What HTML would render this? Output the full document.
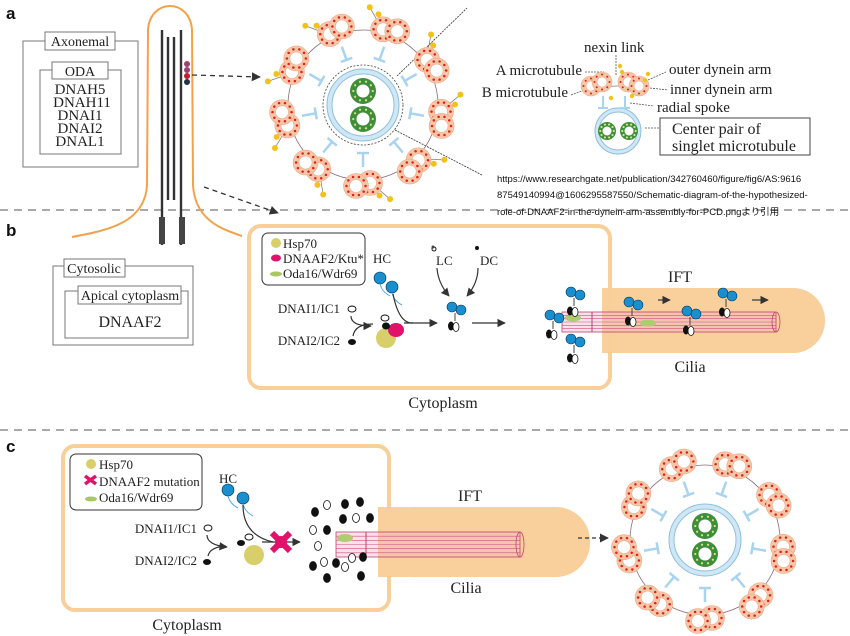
<!DOCTYPE html>
<html><head><meta charset="utf-8"><style>
html,body{margin:0;padding:0;background:#fff;width:850px;height:636px;overflow:hidden}
svg{display:block}
.s{font-family:"Liberation Serif",serif;fill:#222}
.ss{font-family:"Liberation Sans","Noto Sans CJK JP",sans-serif;fill:#111}
</style></head><body>
<svg id="g" width="850" height="636" viewBox="0 0 850 636" xmlns="http://www.w3.org/2000/svg">
<defs>
<marker id="ar" viewBox="0 0 10 10" refX="9" refY="5" markerWidth="7" markerHeight="7" orient="auto"><path d="M0,0L10,5L0,10z" fill="#333"/></marker>
</defs>
<line x1="0" y1="210" x2="850" y2="210" stroke="#aaa" stroke-width="2" stroke-dasharray="8,6"/>
<line x1="0" y1="430" x2="850" y2="430" stroke="#aaa" stroke-width="2" stroke-dasharray="8,6"/>
<text x="6" y="19" class="ss" font-size="17" font-weight="bold">a</text>
<text x="6" y="236" class="ss" font-size="17" font-weight="bold">b</text>
<text x="6" y="452" class="ss" font-size="17" font-weight="bold">c</text>

<rect x="23" y="41" width="115" height="126" fill="none" stroke="#777"/>
<rect x="45" y="32" width="70" height="18" fill="#fff" stroke="#777"/>
<text x="80" y="46" class="s" font-size="14" text-anchor="middle">Axonemal</text>
<rect x="40" y="70" width="81" height="84" fill="none" stroke="#777"/>
<rect x="52" y="62" width="56" height="17" fill="#fff" stroke="#777"/>
<text x="80" y="76" class="s" font-size="14" text-anchor="middle">ODA</text>
<g class="s" font-size="15" text-anchor="middle">
<text x="80" y="94">DNAH5</text><text x="82" y="107">DNAH11</text><text x="80" y="120">DNAI1</text><text x="80" y="133">DNAI2</text><text x="80" y="146">DNAL1</text></g>

<path d="M72,237 C110,230 145,222 147,185 L148,30 C150,-2 190,-2 192,30 L193,185 C195,222 225,230 242,236" fill="none" stroke="#f4a14a" stroke-width="2"/>
<g stroke="#333" stroke-width="2.4">
<line x1="162" y1="30" x2="162" y2="245"/><line x1="168" y1="37" x2="168" y2="200"/><line x1="174" y1="37" x2="174" y2="200"/><line x1="181" y1="30" x2="181" y2="245"/></g>
<rect x="159" y="217" width="6" height="27" fill="#444"/><rect x="179" y="217" width="6" height="27" fill="#444"/>
<circle cx="187" cy="64" r="3" fill="#a04070"/><circle cx="187" cy="70" r="3" fill="#a04070"/><circle cx="187" cy="76" r="3" fill="#c02030"/><circle cx="187" cy="82" r="3" fill="#234"/>
<line x1="192" y1="75" x2="260" y2="77" stroke="#333" stroke-dasharray="5,4" stroke-width="1.3" marker-end="url(#ar)"/>
<line x1="204" y1="187" x2="278" y2="213" stroke="#333" stroke-dasharray="5,4" stroke-width="1.3" marker-end="url(#ar)"/>
<line x1="397" y1="76" x2="467" y2="8" stroke="#333" stroke-width="0.8" stroke-dasharray="2,1"/>
<line x1="395" y1="130" x2="482" y2="175" stroke="#333" stroke-width="0.8" stroke-dasharray="2,1"/>

<g id="ax1"></g>

<g class="s" font-size="15">
<text x="584" y="52">nexin link</text>
<text x="582" y="75" text-anchor="end">A microtubule</text>
<text x="568" y="97" text-anchor="end">B microtubule</text>
<text x="669" y="74">outer dynein arm</text>
<text x="670" y="94">inner dynein arm</text>
<text x="657" y="112">radial spoke</text>
</g>
<g stroke="#555" stroke-width="0.8" stroke-dasharray="2,1" fill="none">
<line x1="585" y1="72" x2="604" y2="72"/><line x1="571" y1="95" x2="590" y2="88"/><line x1="616" y1="55" x2="616" y2="76"/>
<line x1="648" y1="80" x2="666" y2="72"/><line x1="650" y1="88" x2="668" y2="90"/><line x1="630" y1="103" x2="654" y2="106"/>
<line x1="645" y1="128" x2="659" y2="128"/></g>
<g id="leg"></g>
<rect x="660" y="118" width="150" height="37" fill="none" stroke="#444"/>
<text x="672" y="134" class="s" font-size="16">Center pair of</text>
<text x="672" y="151" class="s" font-size="16">singlet microtubule</text>
<g class="ss" font-size="9.5">
<text x="497" y="182">https://www.researchgate.net/publication/342760460/figure/fig6/AS:9616</text>
<text x="497" y="198">87549140994@1606295587550/Schematic-diagram-of-the-hypothesized-</text>
<text x="497" y="215">role-of-DNAAF2-in-the-dynein-arm-assembly-for-PCD.pngより引用</text></g>

<rect x="53" y="266" width="140" height="79" fill="none" stroke="#777"/>
<rect x="64" y="259" width="61" height="18" fill="#fff" stroke="#777"/>
<text x="94" y="273" class="s" font-size="14" text-anchor="middle">Cytosolic</text>
<rect x="65" y="291" width="123" height="47" fill="none" stroke="#777"/>
<rect x="78" y="286" width="103" height="18" fill="#fff" stroke="#777"/>
<text x="130" y="300" class="s" font-size="14" text-anchor="middle">Apical cytoplasm</text>
<text x="130" y="327" class="s" font-size="16" text-anchor="middle">DNAAF2</text>

<rect x="602" y="288" width="223" height="65" rx="32" fill="#f9cf9c"/>
<rect x="602" y="288" width="30" height="65" fill="#f9cf9c"/>
<rect x="249" y="226" width="361" height="162" rx="12" fill="none" stroke="#f8cf98" stroke-width="4"/>
<rect x="262" y="233" width="103" height="52" rx="6" fill="#fff" stroke="#333"/>
<circle cx="276" cy="243" r="5" fill="#d8cf6a"/><ellipse cx="276" cy="258" rx="5" ry="3.5" fill="#e0126a"/><ellipse cx="276" cy="274" rx="6" ry="2.5" fill="#a8c860"/>
<g class="s" font-size="13"><text x="283" y="248">Hsp70</text><text x="283" y="263">DNAAF2/Ktu*</text><text x="283" y="278">Oda16/Wdr69</text>
<text x="373" y="263">HC</text><text x="436" y="265">LC</text><text x="480" y="265">DC</text>
<text x="340" y="313" text-anchor="end">DNAI1/IC1</text><text x="340" y="345" text-anchor="end">DNAI2/IC2</text></g>
<text x="680" y="282" class="s" font-size="16" text-anchor="middle">IFT</text>
<text x="690" y="372" class="s" font-size="16" text-anchor="middle">Cilia</text>
<text x="443" y="408" class="s" font-size="16" text-anchor="middle">Cytoplasm</text>
<g id="tubeb"></g>
<g id="bstuff"></g>

<rect x="378" y="507" width="212" height="70" rx="34" fill="#f9cf9c"/>
<rect x="378" y="507" width="30" height="70" fill="#f9cf9c"/>
<rect x="63" y="446" width="326" height="164" rx="12" fill="none" stroke="#f8cf98" stroke-width="4"/>
<rect x="378" y="509" width="14" height="66" fill="#f9cf9c"/>
<rect x="70" y="454" width="132" height="56" rx="6" fill="#fff" stroke="#333"/>
<circle cx="91" cy="464" r="5" fill="#d8cf6a"/><path d="M85,476 l11,8 M96,476 l-11,8" stroke="#e0126a" stroke-width="3.5"/><ellipse cx="91" cy="499" rx="6" ry="2.5" fill="#a8c860"/>
<g class="s" font-size="13"><text x="99" y="469">Hsp70</text><text x="99" y="486">DNAAF2 mutation</text><text x="99" y="502">Oda16/Wdr69</text>
<text x="219" y="483">HC</text>
<text x="197" y="533" text-anchor="end">DNAI1/IC1</text><text x="197" y="565" text-anchor="end">DNAI2/IC2</text></g>
<text x="470" y="501" class="s" font-size="16" text-anchor="middle">IFT</text>
<text x="466" y="593" class="s" font-size="16" text-anchor="middle">Cilia</text>
<text x="187" y="630" class="s" font-size="16" text-anchor="middle">Cytoplasm</text>
<line x1="578" y1="538" x2="608" y2="538" stroke="#333" stroke-dasharray="4,3" stroke-width="1.3" marker-end="url(#ar)"/>
<g id="tubec"></g>
<g id="cstuff"></g>
<g id="ax2"></g>
</svg>
<script>
var NS="http://www.w3.org/2000/svg";
function add(p,t,a){var e=document.createElementNS(NS,t);for(var k in a)e.setAttribute(k,a[k]);p.appendChild(e);return e;}
function tube(p,x,y,r,hole,dots){
 add(p,"circle",{cx:x,cy:y,r:r,fill:"#f7c6a6",stroke:"#e8a888","stroke-width":0.6});
 add(p,"circle",{cx:x,cy:y,r:hole,fill:"#fff",stroke:"#e8a888","stroke-width":0.6});
 var n=dots||9,rr=(r+hole)/2;for(var i=0;i<n;i++){var a=i*2*Math.PI/n;add(p,"circle",{cx:x+rr*Math.cos(a),cy:y+rr*Math.sin(a),r:Math.max(0.8,r*0.1),fill:"#e0201a"});}
}
function green(p,x,y,r,h){add(p,"circle",{cx:x,cy:y,r:r,fill:"#3f8f3a"});add(p,"circle",{cx:x,cy:y,r:h,fill:"#fff"});
 var rr=(r+h)/2;for(var i=0;i<10;i++){var a=i*Math.PI/5;add(p,"circle",{cx:x+rr*Math.cos(a),cy:y+rr*Math.sin(a),r:1.1,fill:"#d8e08a"});}}
function axo(id,cx,cy,R,sr,arms){
 var g=document.getElementById(id);
 add(g,"circle",{cx:cx,cy:cy,r:R-3,fill:"none",stroke:"#8a6a7a","stroke-width":0.8});
 for(var i=0;i<9;i++){var a=(-110+40*i)*Math.PI/180,c=Math.cos(a),s=Math.sin(a);
  var r1=R-16,r2=R-30;add(g,"line",{x1:cx+r1*c,y1:cy+r1*s,x2:cx+r2*c,y2:cy+r2*s,stroke:"#a8d4f0","stroke-width":2.5});
  add(g,"line",{x1:cx+r2*c-6*s,y1:cy+r2*s+6*c,x2:cx+r2*c+6*s,y2:cy+r2*s-6*c,stroke:"#a8d4f0","stroke-width":2.5});
  if(arms){for(var k=0;k<2;k++){var b=a+(k?-0.28:-0.18),rr=R+(k?20:14);var ax=cx+rr*Math.cos(b),ay=cy+rr*Math.sin(b);
    add(g,"line",{x1:cx+R*Math.cos(a-0.1),y1:cy+R*Math.sin(a-0.1),x2:ax,y2:ay,stroke:"#777","stroke-width":0.7});
    add(g,"circle",{cx:ax,cy:ay,r:3,fill:"#f2c21b"});}}
  var tx=-s,ty=c;
  tube(g,cx+R*c-7*tx,cy+R*s-7*ty,12.5,6.5,10);
  tube(g,cx+(R+3)*c+7*tx,cy+(R+3)*s+7*ty,12.5,6.5,10);
 }
 if(arms)add(g,"circle",{cx:cx,cy:cy,r:sr+4,fill:"none",stroke:"#444","stroke-width":0.8,"stroke-dasharray":"2,1.5"});
 add(g,"circle",{cx:cx,cy:cy,r:sr,fill:"#cfe6f5",stroke:"#8ebfdc","stroke-width":1});
 add(g,"circle",{cx:cx,cy:cy,r:sr-5,fill:"#fff",stroke:"#8ebfdc","stroke-width":1});
 green(g,cx,cy-14,13,6.5);green(g,cx,cy+14,13,6.5);
}
axo("ax1",363,105,78,36,true);
axo("ax2",705,540,78,36,false);
var L=document.getElementById("leg");
add(L,"circle",{cx:618,cy:131,r:23,fill:"#cfe6f5",stroke:"#8ebfdc"});add(L,"circle",{cx:618,cy:131,r:19,fill:"#fff",stroke:"#8ebfdc"});
green(L,607,131,9,4.5);green(L,629,131,9,4.5);
add(L,"path",{d:"M590,92 Q615,80 645,92",fill:"none",stroke:"#777","stroke-width":0.7});
tube(L,591,86,10,5,8);tube(L,602,82,10,5,8);tube(L,628,82,10,5,8);tube(L,639,86,10,5,8);
[[620,66],[622,72],[645,80],[648,74],[632,96],[611,98]].forEach(function(p){add(L,"circle",{cx:p[0],cy:p[1],r:2.2,fill:"#f2c21b"})});
add(L,"path",{d:"M603,96v12M598,108h10M625,96v12M620,108h10",stroke:"#a8d4f0","stroke-width":2,fill:"none"});
function ptube(id,x1,x2,y,h){var g=document.getElementById(id);
 add(g,"rect",{x:x1,y:y,width:x2-x1,height:h,fill:"rgba(240,180,200,0.4)",stroke:"#c04070","stroke-width":0.8});
 for(var i=1;i<6;i++)add(g,"line",{x1:x1,y1:y+i*h/6,x2:x2,y2:y+i*h/6,stroke:"#d05080","stroke-width":0.6});
 add(g,"ellipse",{cx:x2,cy:y+h/2,rx:4,ry:h/2,fill:"none",stroke:"#c04070","stroke-width":0.8});
 add(g,"line",{x1:x1+30,y1:y,x2:x1+30,y2:y+h,stroke:"#c04070","stroke-width":1});return g;}
var gb=ptube("tubeb",562,776,312,20);
add(gb,"ellipse",{cx:573,cy:318,rx:8,ry:3.5,fill:"#b0cc70"});add(gb,"ellipse",{cx:648,cy:323,rx:8,ry:3.5,fill:"#b0cc70"});
var gc=ptube("tubec",336,520,532,25);
add(gc,"ellipse",{cx:345,cy:538,rx:8,ry:4,fill:"#b0cc70"});
function dyn(g,x,y){add(g,"line",{x1:x+3,y1:y+6,x2:x+3,y2:y+14,stroke:"#444","stroke-width":1});
 add(g,"circle",{cx:x,cy:y,r:5,fill:"#1a8fd0",stroke:"#035","stroke-width":0.6});add(g,"circle",{cx:x+9,cy:y+3,r:5,fill:"#1a8fd0",stroke:"#035","stroke-width":0.6});
 add(g,"ellipse",{cx:x-1,cy:y+19,rx:3,ry:4.5,fill:"#111"});add(g,"ellipse",{cx:x+4,cy:y+20,rx:3,ry:4.5,fill:"#fff",stroke:"#111","stroke-width":0.8});}
var B=document.getElementById("bstuff");
function hc(g,x,y){add(g,"circle",{cx:x,cy:y,r:6,fill:"#1a8fd0",stroke:"#035","stroke-width":0.6});add(g,"path",{d:"M"+x+","+(y+6)+" q2,8 10,12",fill:"none",stroke:"#3aa0e0","stroke-width":0.8});}
hc(B,380,278);hc(B,392,287);
add(B,"ellipse",{cx:352,cy:309,rx:4,ry:3,fill:"#fff",stroke:"#111"});add(B,"ellipse",{cx:352,cy:342,rx:4,ry:3,fill:"#111"});
add(B,"path",{d:"M351,316 q0,10 20,10",fill:"none",stroke:"#333","stroke-width":1.2,"marker-end":"url(#ar)"});
add(B,"path",{d:"M353,336 q2,-12 20,-12",fill:"none",stroke:"#333","stroke-width":1.2});
add(B,"circle",{cx:386,cy:338,r:10,fill:"#d8cf6a"});add(B,"ellipse",{cx:396,cy:330,rx:8,ry:7,fill:"#e0126a"});
add(B,"ellipse",{cx:386,cy:326,rx:4,ry:3.5,fill:"#111"});add(B,"ellipse",{cx:385,cy:318,rx:4,ry:3,fill:"#fff",stroke:"#111"});
add(B,"line",{x1:404,y1:323,x2:437,y2:323,stroke:"#333","stroke-width":1.2,"marker-end":"url(#ar)"});
add(B,"path",{d:"M393,294 q6,30 20,29",fill:"none",stroke:"#333","stroke-width":1.2});
add(B,"circle",{cx:434,cy:249,r:2,fill:"#fff",stroke:"#111"});add(B,"circle",{cx:433,cy:247,r:1.5,fill:"#444"});add(B,"circle",{cx:477,cy:248,r:2,fill:"#111"});
add(B,"path",{d:"M437,268 q1,15 12,28",fill:"none",stroke:"#333","stroke-width":1.2,"marker-end":"url(#ar)"});
add(B,"path",{d:"M478,268 q0,15 -11,28",fill:"none",stroke:"#333","stroke-width":1.2,"marker-end":"url(#ar)"});
dyn(B,452,307);
add(B,"line",{x1:472,y1:323,x2:505,y2:323,stroke:"#333","stroke-width":1.2,"marker-end":"url(#ar)"});
dyn(B,550,315);dyn(B,571,292);dyn(B,571,339);dyn(B,629,302);dyn(B,687,311);dyn(B,723,293);
add(B,"line",{x1:658,y1:300,x2:670,y2:300,stroke:"#333","stroke-width":1.2,"marker-end":"url(#ar)"});
add(B,"line",{x1:752,y1:300,x2:768,y2:300,stroke:"#333","stroke-width":1.2,"marker-end":"url(#ar)"});
var C=document.getElementById("cstuff");
hc(C,228,490);hc(C,243,498);
add(C,"ellipse",{cx:208,cy:528,rx:4,ry:3,fill:"#fff",stroke:"#111"});add(C,"ellipse",{cx:207,cy:562,rx:4,ry:3,fill:"#111"});
add(C,"path",{d:"M207,535 q0,10 20,12",fill:"none",stroke:"#333","stroke-width":1.2,"marker-end":"url(#ar)"});
add(C,"path",{d:"M208,556 q2,-9 18,-10",fill:"none",stroke:"#333","stroke-width":1.2});
add(C,"ellipse",{cx:241,cy:543,rx:4,ry:3,fill:"#111"});add(C,"ellipse",{cx:249,cy:537,rx:4,ry:3,fill:"#fff",stroke:"#111"});
add(C,"circle",{cx:254,cy:555,r:10,fill:"#d8cf6a"});
add(C,"line",{x1:262,y1:542,x2:300,y2:542,stroke:"#333","stroke-width":1.2,"marker-end":"url(#ar)"});
add(C,"path",{d:"M243,505 q0,30 30,37",fill:"none",stroke:"#333","stroke-width":1.2});
add(C,"path",{d:"M272,533 l18,18 M290,533 l-18,18",stroke:"#e0126a","stroke-width":6});
add(C,"circle",{cx:281,cy:542,r:6,fill:"#e0126a"});
[[315,512,1],[327,505,0],[345,504,1],[360,502,1],[343,519,1],[356,518,0],[370,518,1],[313,530,0],[327,530,1],[318,546,0],[313,566,1],[324,562,0],[336,563,1],[345,567,0],[352,558,0],[363,557,1],[327,578,1],[361,576,1]].forEach(function(p){
 add(C,"ellipse",{cx:p[0],cy:p[1],rx:3.5,ry:4.5,fill:p[2]?"#111":"#fff",stroke:"#111","stroke-width":0.8});});
</script>
</body></html>
